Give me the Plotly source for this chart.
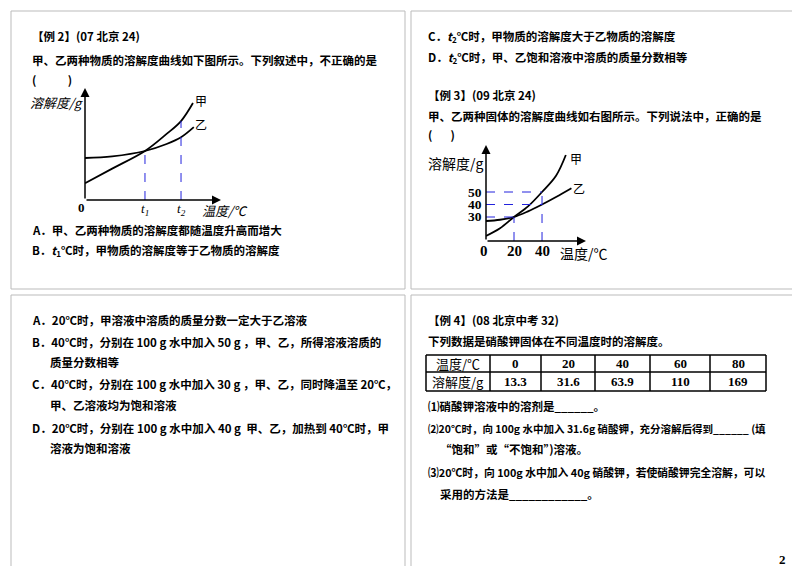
import plotly.graph_objects as go

W, H = 800, 566
# ---- data ----
c1_x_jia = [0, 2, 4.41, 6, 7.06, 7.94]
c1_y_jia = [1.5, 2.8, 4.375, 5.9, 7.05, 8.66]
c1_x_yi = [0, 2, 4.41, 6, 7.06, 8.0]
c1_y_yi = [3.75, 3.9, 4.375, 5.0, 5.6, 6.5]
t_marks = [4.41, 7.06]
t_labels = ["t<sub>1</sub>", "t<sub>2</sub>"]
t_yvals = [4.375, 7.05]

c2_x_jia = [0, 10, 20, 30, 40, 50, 57]
c2_y_jia = [14.8, 21, 30, 38.5, 50, 63, 79.6]
c2_x_yi = [0, 10, 20, 30, 40, 50, 61]
c2_y_yi = [26.8, 27.8, 30, 34.5, 40, 46, 53]
c2_xticks = [20, 40]
c2_yticks = [30, 40, 50]
c2_hlines = [(50, 40), (40, 40), (30, 20)]
c2_vlines = [(20, 30), (40, 50)]

table_head = ["温度/℃", "0", "20", "40", "60", "80"]
table_vals = ["溶解度/g", "13.3", "31.6", "63.9", "110", "169"]
table_cols = [418, 482, 533, 587, 642, 702, 758]
table_rows = [347, 364, 383]

fig = go.Figure()
FONT = "Noto Sans CJK SC"
SERIF = "Liberation Serif"

def px(x): return x / W
def py(y): return 1 - y / H

C1 = dict(x0=77, x1=213, y0=192, y1=80, xr=(0, 10), yr=(0, 10))
C2 = dict(x0=478, x1=578, y0=233, y1=137, xr=(0, 71.4), yr=(10.8, 87.6))
def cx(c, v): return c["x0"] + (v - c["xr"][0]) / (c["xr"][1] - c["xr"][0]) * (c["x1"] - c["x0"])
def cy(c, v): return c["y0"] + (v - c["yr"][0]) / (c["yr"][1] - c["yr"][0]) * (c["y1"] - c["y0"])

ann = []
shapes = []
def text(x, y, s, size=11.5, font=FONT, color="black", anchor="left"):
    ann.append(dict(x=px(x), y=py(y), xref="paper", yref="paper", text=s, showarrow=False,
                    xanchor=anchor, yanchor="middle", font=dict(size=size, family=font, color=color)))
def arrow(c):
    for (tx, ty) in [(c["x1"], c["y0"]), (c["x0"], c["y1"])]:
        ann.append(dict(x=px(tx), y=py(ty), ax=c["x0"] - tx, ay=c["y0"] - ty, xref="paper", yref="paper",
                        axref="pixel", ayref="pixel", text="", showarrow=True, standoff=0,
                        arrowhead=2, arrowsize=1.2, arrowwidth=1.5, arrowcolor="black"))

for (x0, y0, x1, y1) in [(3, 3, 397, 281), (403, 3, 797, 281), (3, 287, 397, 563), (403, 287, 797, 563)]:
    shapes.append(dict(type="rect", xref="paper", yref="paper", x0=px(x0), x1=px(x1), y0=py(y0), y1=py(y1),
                       line=dict(color="#bbbbbb", width=1)))

LW = 1.8
for xs, ys in [(c1_x_jia, c1_y_jia), (c1_x_yi, c1_y_yi)]:
    fig.add_trace(go.Scatter(x=xs, y=ys, mode="lines", line=dict(color="black", width=LW, shape="spline"),
                             xaxis="x", yaxis="y", showlegend=False))
for tx, ty, tl in zip(t_marks, t_yvals, t_labels):
    shapes.append(dict(type="line", xref="x", yref="y", x0=tx, x1=tx, y0=0, y1=ty,
                       line=dict(color="#2222dd", width=1, dash="dash")))
    text(cx(C1, tx), 201, "<i>" + tl + "</i>", 13, SERIF, anchor="center")
arrow(C1)
text(185, 92, "甲", 12)
text(185, 116, "乙", 12)
text(68, 199, "<b>0</b>", 13, SERIF)
text(20, 95, "<i>溶解度/g</i>", 13)
text(192, 202, "<i>温度/℃</i>", 13)

for xs, ys in [(c2_x_jia, c2_y_jia), (c2_x_yi, c2_y_yi)]:
    fig.add_trace(go.Scatter(x=xs, y=ys, mode="lines", line=dict(color="black", width=LW, shape="spline"),
                             xaxis="x2", yaxis="y2", showlegend=False))
for yv, xv in c2_hlines:
    shapes.append(dict(type="line", xref="x2", yref="y2", x0=0, x1=xv, y0=yv, y1=yv,
                       line=dict(color="#2222dd", width=1, dash="dash")))
for xv, yv in c2_vlines:
    shapes.append(dict(type="line", xref="x2", yref="y2", x0=xv, x1=xv, y0=10.8, y1=yv,
                       line=dict(color="#2222dd", width=1, dash="dash")))
arrow(C2)
for v in c2_yticks:
    text(476, cy(C2, v), "<b>%d</b>" % v, 13.5, SERIF, anchor="right")
for v in c2_xticks:
    text(cx(C2, v), 243, "<b>%d</b>" % v, 15, SERIF, anchor="center")
text(560, 150, "甲", 12)
text(563, 180, "乙", 12)
text(470, 243, "<b>0</b>", 15, SERIF)
text(418, 155, "溶解度/g", 14)
text(550, 245, "温度/℃", 14)

text(22, 28, "<b>【例 2】(07 北京 24)</b>")
text(22, 52, "<b>甲、乙两种物质的溶解度曲线如下图所示。下列叙述中，不正确的是</b>")
text(22, 72, "<b>(            )</b>")
text(22, 222, "<b>A．甲、乙两种物质的溶解度都随温度升高而增大</b>")
text(22, 243, "<b>B．<i>t</i><sub>1</sub>℃时，甲物质的溶解度等于乙物质的溶解度</b>")
text(418, 28, "<b>C．<i>t</i><sub>2</sub>℃时，甲物质的溶解度大于乙物质的溶解度</b>")
text(418, 50, "<b>D．<i>t</i><sub>2</sub>℃时，甲、乙饱和溶液中溶质的质量分数相等</b>")
text(418, 87, "<b>【例 3】(09 北京 24)</b>")
text(418, 108, "<b>甲、乙两种固体的溶解度曲线如右图所示。下列说法中，正确的是</b>")
text(418, 127, "<b>(       )</b>")
text(22, 312, "<b>A．20℃时，甲溶液中溶质的质量分数一定大于乙溶液</b>")
text(22, 334, "<b>B．40℃时，分别在 100 g 水中加入 50 g ，甲、乙，所得溶液溶质的</b>")
text(40, 354, "<b>质量分数相等</b>")
text(22, 376, "<b>C．40℃时，分别在 100 g 水中加入 30 g ，甲、乙，同时降温至 20℃，</b>")
text(40, 397, "<b>甲、乙溶液均为饱和溶液</b>")
text(22, 420, "<b>D．20℃时，分别在 100 g 水中加入 40 g  甲、乙，加热到 40℃时，甲</b>")
text(40, 440, "<b>溶液为饱和溶液</b>")
text(418, 312, "<b>【例 4】(08 北京中考 32)</b>")
text(418, 333, "<b>下列数据是硝酸钾固体在不同温度时的溶解度。</b>")
text(418, 398, "<b>⑴硝酸钾溶液中的溶剂是______。</b>")
text(418, 420, "<b>⑵20℃时，向 100g 水中加入 31.6g 硝酸钾，充分溶解后得到______ (填</b>", 10.5)
text(430, 441, "<b>“饱和”或“不饱和”)溶液。</b>")
text(418, 464, "<b>⑶20℃时，向 100g 水中加入 40g 硝酸钾，若使硝酸钾完全溶解，可以</b>", 10.8)
text(430, 486, "<b>采用的方法是____________。</b>")
text(780, 551, "<b>2</b>", 13, SERIF, anchor="right")

for c in table_cols:
    shapes.append(dict(type="line", xref="paper", yref="paper", x0=px(c), x1=px(c),
                       y0=py(table_rows[0]), y1=py(table_rows[-1]), line=dict(color="black", width=1.5)))
for r in table_rows:
    shapes.append(dict(type="line", xref="paper", yref="paper", x0=px(table_cols[0]), x1=px(table_cols[-1]),
                       y0=py(r), y1=py(r), line=dict(color="black", width=1.5)))
for i, (h, v) in enumerate(zip(table_head, table_vals)):
    mx = (table_cols[i] + table_cols[i + 1]) / 2
    f = FONT if i == 0 else SERIF
    text(mx, (table_rows[0] + table_rows[1]) / 2, h if i == 0 else "<b>%s</b>" % h, 13, f, anchor="center")
    text(mx, (table_rows[1] + table_rows[2]) / 2, v if i == 0 else "<b>%s</b>" % v, 13, f, anchor="center")

fig.update_layout(
    width=W, height=H, margin=dict(l=0, r=0, t=0, b=0), paper_bgcolor="white", plot_bgcolor="rgba(0,0,0,0)",
    xaxis=dict(domain=[px(C1["x0"]), px(C1["x1"])], range=list(C1["xr"]), visible=False),
    yaxis=dict(domain=[py(C1["y0"]), py(C1["y1"])], range=list(C1["yr"]), visible=False),
    xaxis2=dict(domain=[px(C2["x0"]), px(C2["x1"])], range=list(C2["xr"]), visible=False, anchor="y2"),
    yaxis2=dict(domain=[py(C2["y0"]), py(C2["y1"])], range=list(C2["yr"]), visible=False, anchor="x2"),
    annotations=ann, shapes=shapes,
)
fig.write_html("out.html")
